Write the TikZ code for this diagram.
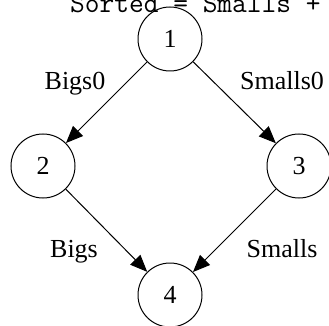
\documentclass[tikz,border=0pt]{standalone}
\usepackage{fontspec}
\setmainfont{Liberation Serif}
\usetikzlibrary{arrows.meta}
\tikzset{
  state/.style={circle,draw,line width=1pt,minimum size=64pt,inner sep=0pt,font=\fontsize{26}{28}\selectfont},
  elabel/.style={font=\fontsize{26}{28}\selectfont,anchor=base,inner sep=0pt},
  edge/.style={line width=1pt,-{Triangle[length=17pt,width=14pt]}}
}
\begin{document}
\begin{tikzpicture}[x=1pt,y=-1pt]
\useasboundingbox (0,0) rectangle (329,326);
\clip (0,0) rectangle (329,326);
\node[anchor=base west,inner sep=0pt,font=\ttfamily\fontsize{28.6}{30}\selectfont] (title) at (70,13) {Sorted = Smalls +};
\node[state] (n1) at (170,39) {1};
\node[state] (n2) at (43,166) {2};
\node[state] (n3) at (299,166) {3};
\node[state] (n4) at (170,295) {4};
\draw[edge] (n1) -- (n2);
\draw[edge] (n1) -- (n3);
\draw[edge] (n2) -- (n4);
\draw[edge] (n3) -- (n4);
\node[elabel] (l1) at (75,90) {Bigs0};
\node[elabel] (l2) at (282,90) {Smalls0};
\node[elabel] (l3) at (74,257) {Bigs};
\node[elabel] (l4) at (282,257) {Smalls};
\end{tikzpicture}
\end{document}
